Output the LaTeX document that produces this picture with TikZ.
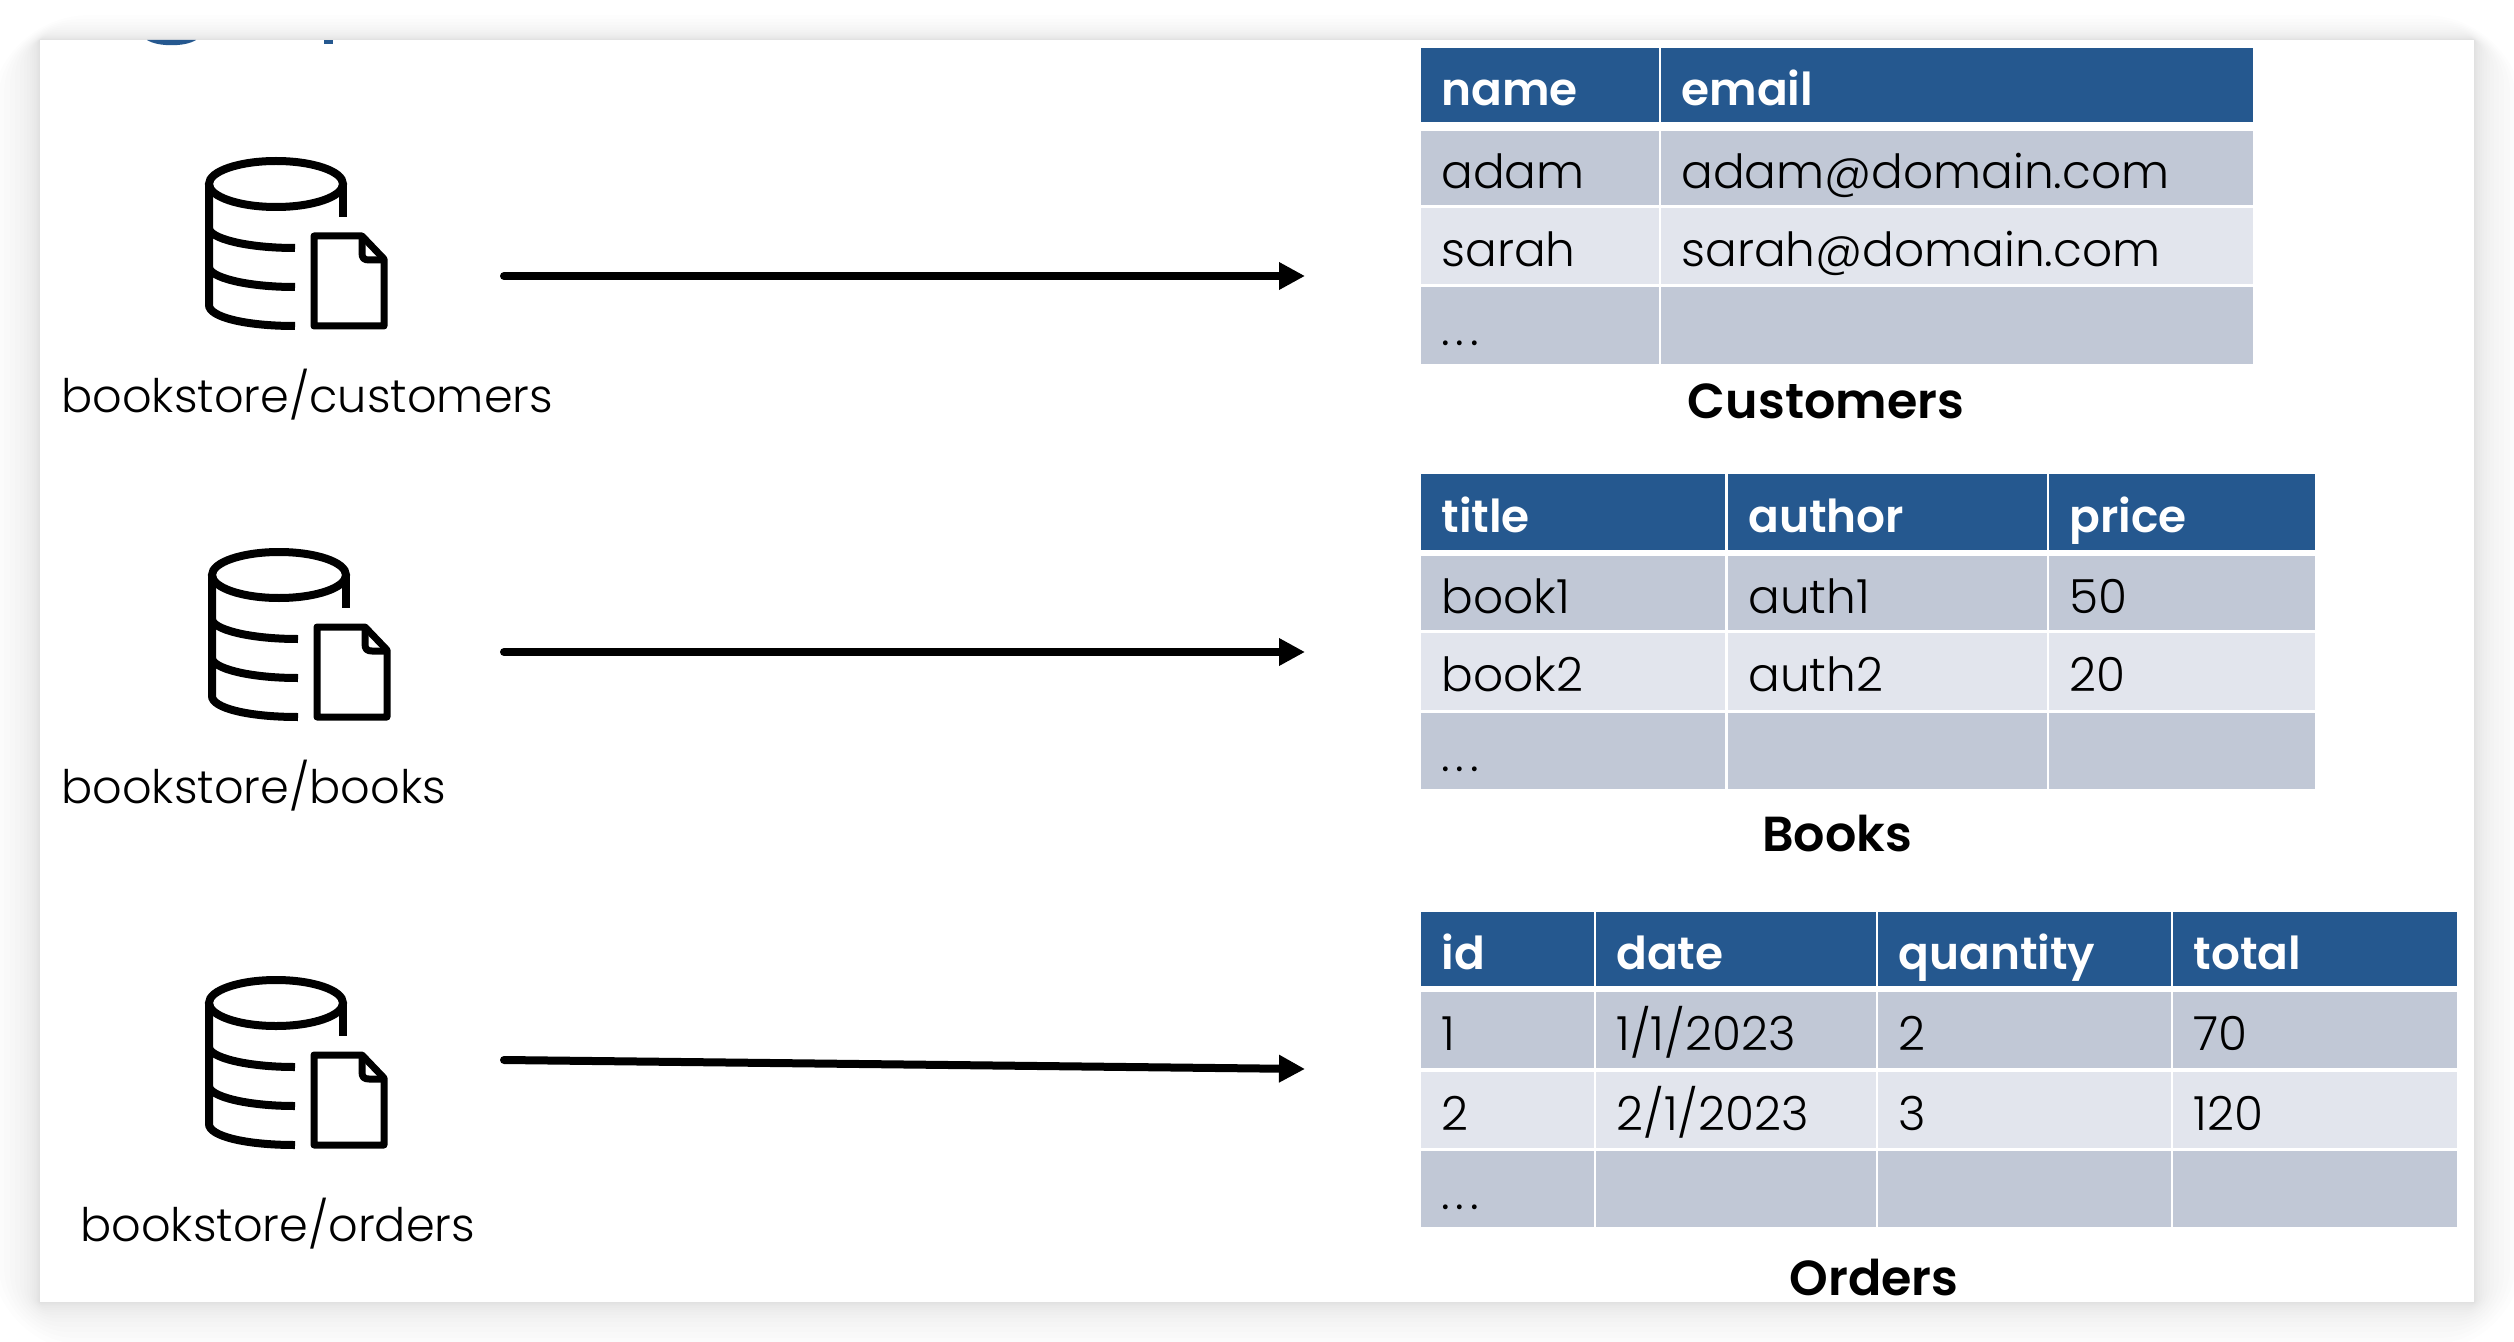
\documentclass[tikz,border=0pt]{standalone}
\usepackage{fontspec}
\setmainfont{Poppins}[UprightFont=* Light,BoldFont=* SemiBold]
\usetikzlibrary{arrows.meta}
\definecolor{headblue}{HTML}{25588F}
\definecolor{rowdark}{HTML}{C1C8D6}
\definecolor{rowlight}{HTML}{E2E5ED}
\newcommand{\moredots}{.\kern3pt.\kern3pt.}
\tikzset{
  cellbox/.style 2 args={anchor=north west,inner xsep=10pt,inner ysep=0pt,
    text width={#1*.5pt-20pt},minimum height={#2*.5pt},text height=20pt,text depth=0pt,
    align=left,font=\fontsize{23.5}{23.5}\selectfont},
  headcell/.style 2 args={cellbox={#1}{#2},fill=headblue,text=white,font=\fontsize{22.7}{22.7}\selectfont\bfseries},
  darkcell/.style 2 args={cellbox={#1}{#2},fill=rowdark},
  lightcell/.style 2 args={cellbox={#1}{#2},fill=rowlight},
  pathlabel/.style={anchor=base west,inner sep=0pt,font=\fontsize{23.1}{23.1}\selectfont},
  tabletitle/.style={anchor=base,inner sep=0pt,font=\fontsize{24.6}{24.6}\selectfont\bfseries},
  maparrow/.style={line width=4pt,line cap=round,-{Triangle[length=13pt,width=13pt]}},
  dbicon/.pic={
    \draw[line width=4pt] (71,27) ellipse (67 and 23);
    \draw[line width=4pt] (138,27)--(138,60);
    \draw[line width=4pt] (4,27)--(4,148) .. controls (4,160) and (40,169) .. (90,169);
    \draw[line width=4pt] (4,71) .. controls (4,81) and (40,91) .. (90,91);
    \draw[line width=4pt] (4,110) .. controls (4,120) and (40,130) .. (90,130);
    \draw[line width=3.5pt,line join=round] (109,79)--(157,79)--(179,102)--(179,169)--(109,169)--cycle;
    \draw[line width=3.5pt,line join=round] (157,79)--(157,96) .. controls (157,101) and (159,103) .. (164,103)--(179,103);
  }
}
\begin{document}
\begin{tikzpicture}[x=.5pt,y=-.5pt]
\useasboundingbox (0,0) rectangle (2514,1342);
\fill[white] (0,0) rectangle (2514,1342);
\foreach \s in {1,2,3,4,6,8,10,13,16,20,25,30,36,42,50}
  \fill[black,opacity=.006,rounded corners=\s] (40-\s,40-\s*.5) rectangle (2474+\s,1302+\s);
\fill[white] (40,40) rectangle (2474,1302);
\fill[headblue] (147,40) .. controls (158,47) and (185,47) .. (196,40)--cycle;
\fill[headblue] (324,40) rectangle (333,44);

\pic at (205,157) {dbicon};
\pic at (208,548) {dbicon};
\pic at (205,976) {dbicon};

\node[pathlabel] (custPath) at (61,412) {bookstore/customers};
\node[pathlabel] (bookPath) at (61,803) {bookstore/books};
\node[pathlabel] (ordPath) at (80,1241) {bookstore/orders};

\coordinate (custFrom) at (504,276);
\coordinate (custTo) at (1305,276);
\coordinate (bookFrom) at (504,652);
\coordinate (bookTo) at (1305,652);
\coordinate (ordFrom) at (504,1060);
\coordinate (ordTo) at (1305,1069);
\draw[maparrow] (custFrom)--(custTo);
\draw[maparrow] (bookFrom)--(bookTo);
\draw[maparrow] (ordFrom)--(ordTo);

\foreach \id/\xx/\ww/\hd/\ra/\rb/\rc in {
  a/1421/238/name/adam/sarah/\moredots,
  b/1661/592/email/adam@domain.com/sarah@domain.com/{}}{
  \node[headcell={\ww}{74}] (cust\id0) at (\xx,48) {\hd};
  \node[darkcell={\ww}{74}] (cust\id1) at (\xx,131) {\ra};
  \node[lightcell={\ww}{76}] (cust\id2) at (\xx,208) {\rb};
  \node[darkcell={\ww}{77}] (cust\id3) at (\xx,287) {\rc};
}
\node[tabletitle] (custTitle) at (1826,418) {Customers};

\foreach \id/\xx/\ww/\hd/\ra/\rb/\rc in {
  a/1421/304/title/book1/book2/\moredots,
  b/1728/319/author/auth1/auth2/{},
  c/2049/266/price/50/20/{}}{
  \node[headcell={\ww}{76}] (book\id0) at (\xx,474) {\hd};
  \node[darkcell={\ww}{74}] (book\id1) at (\xx,556) {\ra};
  \node[lightcell={\ww}{77}] (book\id2) at (\xx,633) {\rb};
  \node[darkcell={\ww}{76}] (book\id3) at (\xx,713) {\rc};
}
\node[tabletitle] (bookTitle) at (1837,851) {Books};

\foreach \id/\xx/\ww/\hd/\ra/\rb/\rc in {
  a/1421/173/id/1/2/\moredots,
  b/1596/280/date/1\slash 1\slash 2023/2\slash 1\slash 2023/{},
  c/1878/293/quantity/2/3/{},
  d/2173/284/total/70/120/{}}{
  \node[headcell={\ww}{74}] (ord\id0) at (\xx,912) {\hd};
  \node[darkcell={\ww}{76}] (ord\id1) at (\xx,992) {\ra};
  \node[lightcell={\ww}{76}] (ord\id2) at (\xx,1072) {\rb};
  \node[darkcell={\ww}{76}] (ord\id3) at (\xx,1151) {\rc};
}
\node[tabletitle] (ordTitle) at (1874,1295) {Orders};
\end{tikzpicture}
\end{document}
